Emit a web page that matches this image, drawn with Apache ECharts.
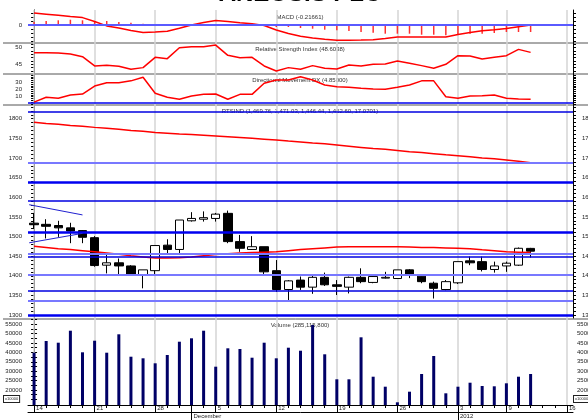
<!DOCTYPE html>
<html>
<head>
<meta charset="utf-8">
<script src="https://cdn.jsdelivr.net/npm/echarts@6/dist/echarts.min.js"></script>
<style>
html, body { margin: 0; padding: 0; background: #fff; }
#chart { width: 588px; height: 420px; }
</style>
</head>
<body>
<div id="chart"></div>
<script>
// trading days, plus three empty slots at the right end
const days = ['2011-11-14','2011-11-15','2011-11-16','2011-11-17','2011-11-18',
  '2011-11-21','2011-11-22','2011-11-23','2011-11-24','2011-11-25',
  '2011-11-28','2011-11-29','2011-11-30','2011-12-01','2011-12-02',
  '2011-12-05','2011-12-06','2011-12-07','2011-12-08','2011-12-09',
  '2011-12-12','2011-12-13','2011-12-14','2011-12-15','2011-12-16',
  '2011-12-19','2011-12-20','2011-12-21','2011-12-22','2011-12-23',
  '2011-12-26','2011-12-27','2011-12-28','2011-12-29','2011-12-30',
  '2012-01-03','2012-01-04','2012-01-05','2012-01-06',
  '2012-01-09','2012-01-10','2012-01-11','2012-01-12','2012-01-13','2012-01-16'];
const weekStarts = [0, 5, 10, 15, 20, 25, 30, 35, 39, 44];
const weekLabels = ['14', '21', '28', '5', '12', '19', '26', '3', '9', '16'];
const monthStarts = [13, 35];
const monthLabels = ['December', '2012'];

const opens  = [1534,1531,1528,1522,1515,1497,1427,1433,1425,1403,1413,1478,1467,1540,1544,1546,1559,1487,1467,1474,1413,1365,1389,1371,1396,1377,1371,1396,1383,1394,1393,1415,1399,1381,1365,1382,1438,1436,1416,1425,1427,1469.76];
const closes = [1530,1526,1522,1514,1498,1426,1433,1425,1404,1415,1477,1467,1542,1546,1548,1557,1487,1470,1474,1410,1365,1387,1371,1396,1377,1373,1396,1385,1398,1396,1415,1402,1385,1368,1385,1436,1433,1416,1425,1432,1470,1462.60];
const lows   = [1519,1495,1499,1483,1483,1423,1406,1404,1402,1368,1404,1457,1455,1538,1538,1538,1483,1461,1466,1404,1359,1336,1364,1354,1374,1351,1355,1381,1381,1393,1393,1394,1381,1342,1363,1379,1427,1411,1408,1410,1425,1446.44];
const highs  = [1560,1544,1540,1535,1516,1501,1457,1444,1427,1415,1477,1493,1542,1562,1564,1560,1566,1504,1501,1474,1440,1389,1398,1402,1408,1389,1398,1419,1402,1410,1415,1417,1402,1385,1389,1436,1449,1449,1436,1436,1472,1471.03];

const maLong = [1791,1788,1786,1783,1781,1778,1776,1773,1770,1768,1765,1763,1761,1760,1758,1756,1754,1752,1750,1748,1746,1743,1741,1738,1736,1733,1730,1727,1724,1722,1719,1716,1714,1711,1708,1706,1703,1700,1698,1695,1692,1688];
const maShort = [1475,1472,1469,1467,1464,1461,1458,1455,1451,1448,1445,1445,1446,1448,1451,1454,1456,1458,1459,1460,1461,1464,1467,1469,1471,1473,1474,1474,1474,1474,1474,1473,1472,1472,1471,1470,1469,1466,1464,1461,1460,1459];

const strongLevels = [1639, 1511, 1300];
const levels = [1819, 1590, 1449, 1362];
const weakLevels = [1688, 1457, 1402, 1336];
const trendLines = [[[-0.4, 1581], [4.0, 1555]], [[-0.4, 1484], [4.0, 1508]]];

const macdLine = [11.9,10.8,9.7,8.5,7.4,3.5,-0.9,-3.1,-5.5,-7.6,-7.0,-6.3,-3.2,0,2.5,4.5,3.5,2.3,1.3,-0.5,-5,-8.5,-11.3,-13,-14.3,-15.2,-15.2,-15.1,-14.7,-13.5,-12,-12,-12,-12,-12,-9.5,-7.5,-5.7,-4.8,-3.6,-1.8,0];
const macdHist = [3,4,4.7,5.3,4.7,4,4,3,2.3,1.3,0.7,0.5,0.3,0.3,0.3,0.2,0.2,0.2,0.1,-0.5,-2,-2,-3,-3.7,-4.7,-5.3,-6,-7,-7.7,-8.7,-8.7,-8.7,-9.7,-9.7,-10.3,-9.7,-8.7,-8.7,-8,-7,-7,-7];
const rsi = [48.5,48.5,48.4,48.1,47.3,44.5,44.7,44.4,43.5,44.0,47.1,46.7,50.0,50.3,50.3,50.8,47.7,47.0,47.1,44.5,43.0,44.0,43.5,44.6,43.8,43.6,44.8,44.5,45.0,45.1,46.0,45.3,44.6,43.8,45.0,47.6,47.5,46.6,47.1,47.6,49.5,48.6];
const dx = [2.5,9.2,7.8,12.4,13.7,24.8,29.4,29.4,32,36.9,14.7,9.2,6.4,11,13.3,13.7,6.4,13.3,13.3,28.6,33.2,33.2,37.8,33.2,26.2,23.9,23,21.6,20.7,20.2,23,26.2,32,32,10,7.8,11,11.4,12.4,7.8,6.8,6.4];
const dxLevel = 2.3;
const volume = [39840,46060,45160,51540,40050,46220,39840,49630,37710,36860,34200,38620,45690,47500,51540,32400,42180,41810,37180,45160,36860,42500,40900,54570,38990,25690,25690,48030,27070,21760,13460,19100,28510,38090,18240,21760,23880,22130,21970,23560,27070,28511.58];

const FONT = 'Liberation Sans';
const pairs = arr => arr.map((v, i) => [i, v]);
const range = (a, b, s) => { const r = []; for (let v = a; v <= b + 1e-9; v += s) r.push(v); return r; };

function yPair(grid, min, max, labels, ticks, rightMargin) {
    const make = (pos, margin) => ({
        type: 'value', gridIndex: grid, position: pos, min: min, max: max,
        splitLine: { show: false },
        axisLine: { show: true, lineStyle: { color: '#000', width: 1 } },
        axisTick: { show: true, length: 3, customValues: ticks, lineStyle: { color: '#000' } },
        axisLabel: { show: margin != null, customValues: labels, fontSize: 6, color: '#222', margin: margin,
                     fontFamily: FONT, formatter: v => String(v) }
    });
    return [make('left', 6), make('right', rightMargin)];
}

function hiddenX(grid) {
    return { type: 'value', gridIndex: grid, min: -0.5, max: days.length - 0.5, show: false };
}

const chart = echarts.init(document.getElementById('chart'));
const L = 28, R = 15;
const panel = (top, height) => ({ left: L, right: R, top: top, height: height, outerBoundsMode: 'none', containLabel: false });

const lineStyle = (c, w) => ({ color: c, width: w, type: 'solid' });
const levelMarks = []
    .concat(strongLevels.map(v => ({ yAxis: v, lineStyle: lineStyle('#0000f0', 2.5) })))
    .concat(levels.map(v => ({ yAxis: v, lineStyle: lineStyle('#0000e0', 1.5) })))
    .concat(weakLevels.map(v => ({ yAxis: v, lineStyle: lineStyle('#7878ff', 2) })));
const trendMarks = trendLines.map(t => [
    { coord: t[0], lineStyle: lineStyle('#2020d0', 1) }, { coord: t[1] }]);

// light grey lines at the start of each week
const weekLines = {
    silent: true, symbol: 'none', z: 1, label: { show: false },
    lineStyle: { color: '#d4d4d4', width: 1.5, type: 'solid' },
    data: weekStarts.map(i => ({ xAxis: i }))
};

function title(text, y) {
    return { type: 'text', x: 300, y: y, silent: true,
        style: { text: text, align: 'center', verticalAlign: 'middle', font: '6px ' + FONT, fill: '#333' } };
}
function sep(y) {
    return { type: 'line', silent: true, shape: { x1: 3, y1: y, x2: 588, y2: y }, style: { stroke: '#555', lineWidth: 1 } };
}

chart.setOption({
    animation: false,
    backgroundColor: '#fff',
    grid: [panel(10, 33), panel(43, 31), panel(74, 31), panel(105, 213), panel(318, 87)],
    xAxis: [
        hiddenX(0), hiddenX(1), hiddenX(2), hiddenX(3), hiddenX(4),
        { type: 'value', gridIndex: 4, position: 'bottom', min: -0.5, max: days.length - 0.5,
          axisLine: { show: true, lineStyle: { color: '#000' } },
          axisTick: { show: true, length: 3, customValues: days.map((d, i) => i), lineStyle: { color: '#000' } },
          axisLabel: { show: false }, splitLine: { show: false } },
        { type: 'value', gridIndex: 4, position: 'bottom', offset: 7, min: -0.5, max: days.length - 0.5,
          axisLine: { show: true, lineStyle: { color: '#000' } },
          axisTick: { show: true, inside: true, length: 7, customValues: weekStarts, lineStyle: { color: '#000' } },
          axisLabel: { inside: true, margin: 1, align: 'left', padding: [0, 0, 0, 2], customValues: weekStarts,
                       fontSize: 6, color: '#222', fontFamily: FONT,
                       formatter: v => weekLabels[weekStarts.indexOf(v)] },
          splitLine: { show: false } },
        { type: 'value', gridIndex: 4, position: 'bottom', min: -0.5, max: days.length - 0.5,
          axisLine: { show: false },
          axisTick: { show: true, length: 15, customValues: monthStarts, lineStyle: { color: '#000' } },
          axisLabel: { margin: 8, align: 'left', padding: [0, 0, 0, 2], customValues: monthStarts,
                       fontSize: 6, color: '#222', fontFamily: FONT,
                       formatter: v => monthLabels[monthStarts.indexOf(v)] },
          splitLine: { show: false } }
    ],
    yAxis: [].concat(
        yPair(0, -18, 15, [0], [-16, -12, -8, -4, 0, 4, 8, 12], null),
        yPair(1, 42.08, 51.42, [45, 50], range(43, 51, 1), null),
        yPair(2, -1.5, 41.5, [10, 20, 30], range(0, 40, 2.5), null),
        yPair(3, 1292.4, 1835, range(1300, 1800, 50), range(1300, 1830, 10), 9),
        yPair(4, 12021, 58300, range(20000, 55000, 5000), range(15000, 57500, 2500), 4)
    ),
    series: [
        { type: 'bar', xAxisIndex: 0, yAxisIndex: 0, data: pairs(macdHist), barWidth: 1.5,
          itemStyle: { color: '#ff3030' }, markLine: weekLines },
        { type: 'line', xAxisIndex: 0, yAxisIndex: 0, data: pairs(macdLine), showSymbol: false,
          lineStyle: { color: '#ff0000', width: 1.5 },
          markLine: { silent: true, symbol: 'none', label: { show: false },
                      lineStyle: { color: '#5a5aff', width: 2, type: 'solid' }, data: [{ yAxis: 0 }] } },
        { type: 'line', xAxisIndex: 1, yAxisIndex: 2, data: pairs(rsi), showSymbol: false,
          lineStyle: { color: '#ff0000', width: 1.5 }, markLine: weekLines },
        { type: 'line', xAxisIndex: 2, yAxisIndex: 4, data: pairs(dx), showSymbol: false,
          lineStyle: { color: '#ff0000', width: 1.5 },
          markLine: { silent: true, symbol: 'none', z: 1, label: { show: false },
                      lineStyle: { color: '#d4d4d4', width: 1.5, type: 'solid' },
                      data: weekStarts.map(i => ({ xAxis: i }))
                        .concat([{ yAxis: dxLevel, lineStyle: lineStyle('#0000f0', 1.5) }]) } },
        { type: 'candlestick', xAxisIndex: 3, yAxisIndex: 6, barWidth: 9,
          data: opens.map((o, i) => [i, o, closes[i], lows[i], highs[i]]),
          itemStyle: { color: '#ffffff', color0: '#000000', borderColor: '#000000', borderColor0: '#000000', borderWidth: 1 },
          markLine: weekLines },
        { type: 'line', xAxisIndex: 3, yAxisIndex: 6, data: pairs(maLong), showSymbol: false,
          lineStyle: { color: '#ff0000', width: 1.5 } },
        { type: 'line', xAxisIndex: 3, yAxisIndex: 6, data: pairs(maShort), showSymbol: false,
          lineStyle: { color: '#ff0000', width: 1.5 },
          markLine: { silent: true, symbol: 'none', label: { show: false }, data: levelMarks.concat(trendMarks) } },
        { type: 'bar', xAxisIndex: 4, yAxisIndex: 8, data: pairs(volume), barWidth: 3,
          itemStyle: { color: '#000066' }, markLine: weekLines }
    ],
    graphic: [
        { type: 'text', x: 300, y: -6, silent: true,
          style: { text: 'ANEOSIS PLC', align: 'center', verticalAlign: 'middle', font: 'bold 24px ' + FONT, fill: '#000' } },
        title('MACD (-0.21661)', 17),
        title('Relative Strength Index (48.6038)', 49),
        title('Directional Movement DX (4.85000)', 80),
        title('RTSIND (1,469.76, 1,471.03, 1,446.44, 1,462.60, 17.0701)', 111),
        title('Volume (285,115,800)', 325),
        sep(43), sep(74), sep(105), sep(319),
        { type: 'text', x: 4, y: 396, silent: true,
          style: { text: 'x10000', font: '4px ' + FONT, fill: '#222', backgroundColor: '#fff', borderColor: '#222', borderWidth: 1, padding: [1, 1] } },
        { type: 'text', x: 574, y: 396, silent: true,
          style: { text: 'x10000', font: '4px ' + FONT, fill: '#222', backgroundColor: '#fff', borderColor: '#222', borderWidth: 1, padding: [1, 1] } }
    ]
});
</script>
</body>
</html>
